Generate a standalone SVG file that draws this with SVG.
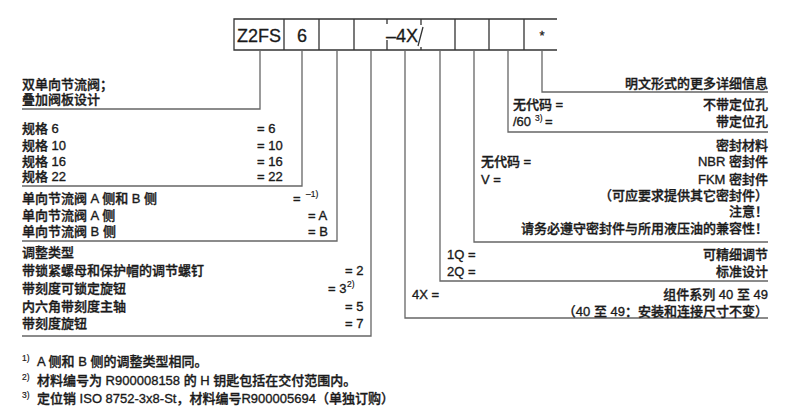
<svg xmlns="http://www.w3.org/2000/svg" width="790" height="420" viewBox="0 0 790 420">
<style>
text{font-family:"Liberation Sans","Noto Sans CJK SC",sans-serif;font-size:13px;font-weight:500;fill:#1a1a1a;stroke:#1a1a1a;stroke-width:0.35px}
.box{font-size:18px;font-weight:400;stroke-width:0.3px}
.r{text-anchor:end}
.sup{font-size:8.5px;stroke-width:0.2px}
.ln{fill:none;stroke:#666;stroke-width:1.3}
.bx{fill:none;stroke:#333;stroke-width:1.3}
</style>
<rect width="790" height="420" fill="#fff"/>
<g id="code-box">
<path class="bx" d="M557 19H234V50H557M284 19V50M319 19V50M354 19V50M455 19V50M489 19V50M524 19V50M387 19V24M387 40V50M421 19V25M421 47V50M423 27L418 46"/>
<text class="box" x="259" y="42" text-anchor="middle">Z2FS</text>
<text class="box" x="302" y="42" text-anchor="middle">6</text>
<text class="box" x="386" y="42">–4X</text>
<text class="box" x="542" y="40" text-anchor="middle" style="font-size:13px">*</text>
</g>
<g id="connectors">
<path class="ln" d="M260 50V109H22"/>
<path class="ln" d="M302 50V186H22"/>
<path class="ln" d="M337 50V241H22"/>
<path class="ln" d="M371 50V336H22"/>
<path class="ln" d="M405 50V318H768"/>
<path class="ln" d="M440 50V281H768"/>
<path class="ln" d="M474 50V242H768"/>
<path class="ln" d="M508 50V132H768"/>
<path class="ln" d="M542 50V92H768"/>
</g>
<g id="type">
<text x="22" y="88.5">双单向节流阀；</text>
<text x="22" y="103.5">叠加阀板设计</text>
</g>
<g id="size">
<text x="22" y="132.5">规格 6</text><text x="257" y="132.5">= 6</text>
<text x="22" y="150">规格 10</text><text x="257" y="150">= 10</text>
<text x="22" y="166">规格 16</text><text x="257" y="166">= 16</text>
<text x="22" y="181">规格 22</text><text x="257" y="181">= 22</text>
</g>
<g id="throttle">
<text x="22" y="202.5">单向节流阀 A 侧和 B 侧</text><text x="293" y="202.5">=</text><text class="sup" x="306" y="197">–1)</text>
<text x="22" y="219.5">单向节流阀 A 侧</text><text x="308" y="219.5">= A</text>
<text x="22" y="235.5">单向节流阀 B 侧</text><text x="308" y="235.5">= B</text>
</g>
<g id="adjust">
<text x="22" y="257">调整类型</text>
<text x="22" y="274.5">带锁紧螺母和保护帽的调节螺钉</text><text x="345" y="274.5">= 2</text>
<text x="22" y="292.5">带刻度可锁定旋钮</text><text x="328" y="292.5">= 3</text><text class="sup" x="347" y="287">2)</text>
<text x="22" y="311">内六角带刻度主轴</text><text x="345" y="311">= 5</text>
<text x="22" y="327.5">带刻度旋钮</text><text x="345" y="327.5">= 7</text>
</g>
<g id="series">
<text x="412" y="298.5">4X =</text><text class="r" x="768" y="298.5">组件系列 40 至 49</text>
<text class="r" x="768" y="315.5">（40 至 49：安装和连接尺寸不变）</text>
</g>
<g id="fine-adjust">
<text x="447" y="259">1Q =</text><text class="r" x="768" y="259">可精细调节</text>
<text x="447" y="276">2Q =</text><text class="r" x="768" y="276">标准设计</text>
</g>
<g id="seal">
<text class="r" x="768" y="149.5">密封材料</text>
<text x="481" y="166">无代码 =</text><text class="r" x="768" y="166">NBR 密封件</text>
<text x="481" y="183.5">V =</text><text class="r" x="768" y="183.5">FKM 密封件</text>
<text class="r" x="768" y="200">（可应要求提供其它密封件）</text>
<text class="r" x="768" y="216">注意！</text>
<text class="r" x="768" y="233">请务必遵守密封件与所用液压油的兼容性！</text>
</g>
<g id="locating">
<text x="513" y="108.5">无代码 =</text><text class="r" x="768" y="108.5">不带定位孔</text>
<text x="513" y="126">/60</text><text class="sup" x="535" y="121">3)</text><text x="545" y="126">=</text><text class="r" x="768" y="126">带定位孔</text>
</g>
<g id="details">
<text class="r" x="768" y="87.5">明文形式的更多详细信息</text>
</g>
<g id="footnotes">
<text class="sup" x="22" y="361">1)</text><text x="37" y="366">A 侧和 B 侧的调整类型相同。</text>
<text class="sup" x="22" y="380">2)</text><text x="37" y="385">材料编号为 R900008158 的 H 钥匙包括在交付范围内。</text>
<text class="sup" x="22" y="398">3)</text><text x="37" y="403">定位销 ISO 8752-3x8-St，材料编号R900005694（单独订购）</text>
</g>
</svg>
